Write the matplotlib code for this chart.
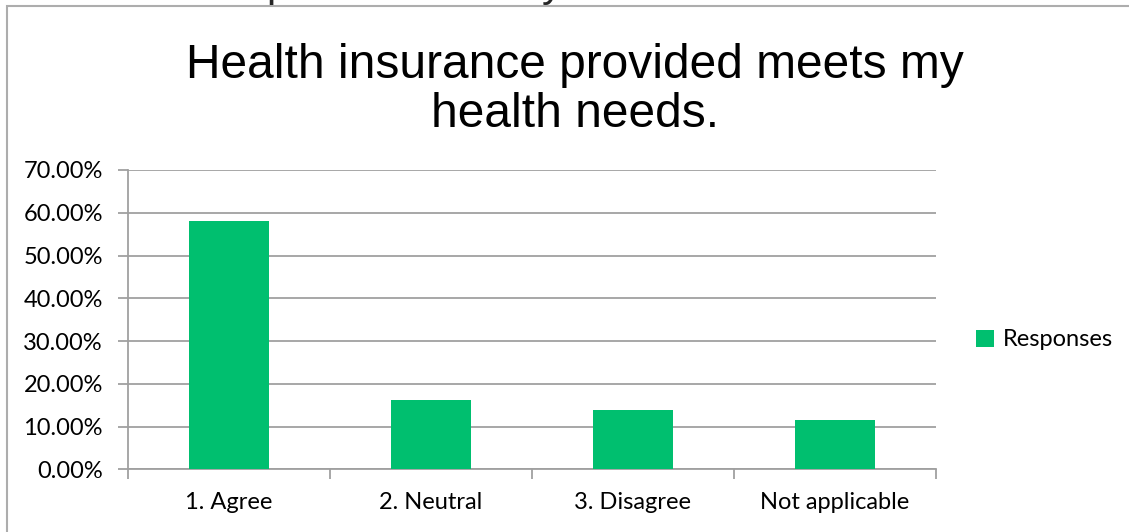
import matplotlib
matplotlib.use("Agg")
import matplotlib.pyplot as plt
from matplotlib.patches import Rectangle
from matplotlib.ticker import FuncFormatter, MultipleLocator

categories = ["1. Agree", "2. Neutral", "3. Disagree", "Not applicable"]
responses = [58.1, 16.1, 13.8, 11.5]
series_name = "Responses"
title = "Health insurance provided meets my\nhealth needs."

W, H = 1129, 532
fig = plt.figure(figsize=(W / 100, H / 100), dpi=100)
fig.patch.set_facecolor("white")

green = "#00BF6F"
grid_gray = "#A0A0A0"
frame_gray = "#ADADAD"
label_font = ["Lato", "DejaVu Sans"]
label_size = 17

# chart frame (extends past the right and bottom edges)
fig.add_artist(Rectangle((7 / W, -0.1), 1.2, 1 - 6 / H + 0.1,
                         transform=fig.transFigure, fill=False,
                         edgecolor=frame_gray, linewidth=1.5))

# descenders of a heading line sitting above the frame
for ch, x in (("p", 278), ("y", 552)):
    fig.text(x / W, 1 + 4 / H, ch, fontsize=30, family="Liberation Sans",
             ha="center", va="baseline", color="#262626")

ax = fig.add_axes([128 / W, 1 - 469.3 / H, (936 - 128) / W, (469.3 - 170) / H])
x = range(len(categories))
ax.bar(x, responses, width=0.4, color=green, label=series_name, zorder=3)
ax.set_xlim(-0.5, len(categories) - 0.5)
ax.set_ylim(0, 70)
ax.yaxis.set_major_locator(MultipleLocator(10))
ax.yaxis.set_major_formatter(FuncFormatter(lambda v, p: f"{v:.2f}%"))
ax.grid(axis="y", color=grid_gray, linewidth=1.3, zorder=0)
ax.set_xticks([i + 0.5 for i in range(len(categories) - 1)] + [-0.5, len(categories) - 0.5])
ax.set_xticklabels([])
ax.set_xticks(list(x), minor=True)
ax.set_xticklabels(categories, minor=True)
ax.tick_params(axis="x", which="minor", length=0, pad=16, labelsize=label_size, labelcolor="#000000")
ax.tick_params(axis="x", which="major", length=7, color=grid_gray, width=1.3)
ax.tick_params(axis="y", length=7, color=grid_gray, width=1.3, pad=11,
               labelsize=label_size, labelcolor="#000000", direction="out")
for lbl in ax.get_xticklabels(minor=True) + ax.get_yticklabels():
    lbl.set_family(label_font)
for side in ("top", "right"):
    ax.spines[side].set_visible(False)
ax.spines["left"].set_color(grid_gray)
ax.spines["left"].set_linewidth(1.3)
ax.spines["bottom"].set_color(grid_gray)
ax.spines["bottom"].set_linewidth(1.3)

fig.text(575 / W, 1 - 90 / H, title, ha="center", va="center", fontsize=34.5,
         family="Liberation Sans", color="#000000", linespacing=1.12)

leg = fig.legend(loc="center left", bbox_to_anchor=(976 / W, 1 - 340 / H),
                 frameon=False, handlelength=0.75, handleheight=0.75,
                 handletextpad=0.4, borderpad=0, borderaxespad=0,
                 prop={"family": label_font, "size": label_size})

fig.savefig("out.png", dpi=100, facecolor="white")
